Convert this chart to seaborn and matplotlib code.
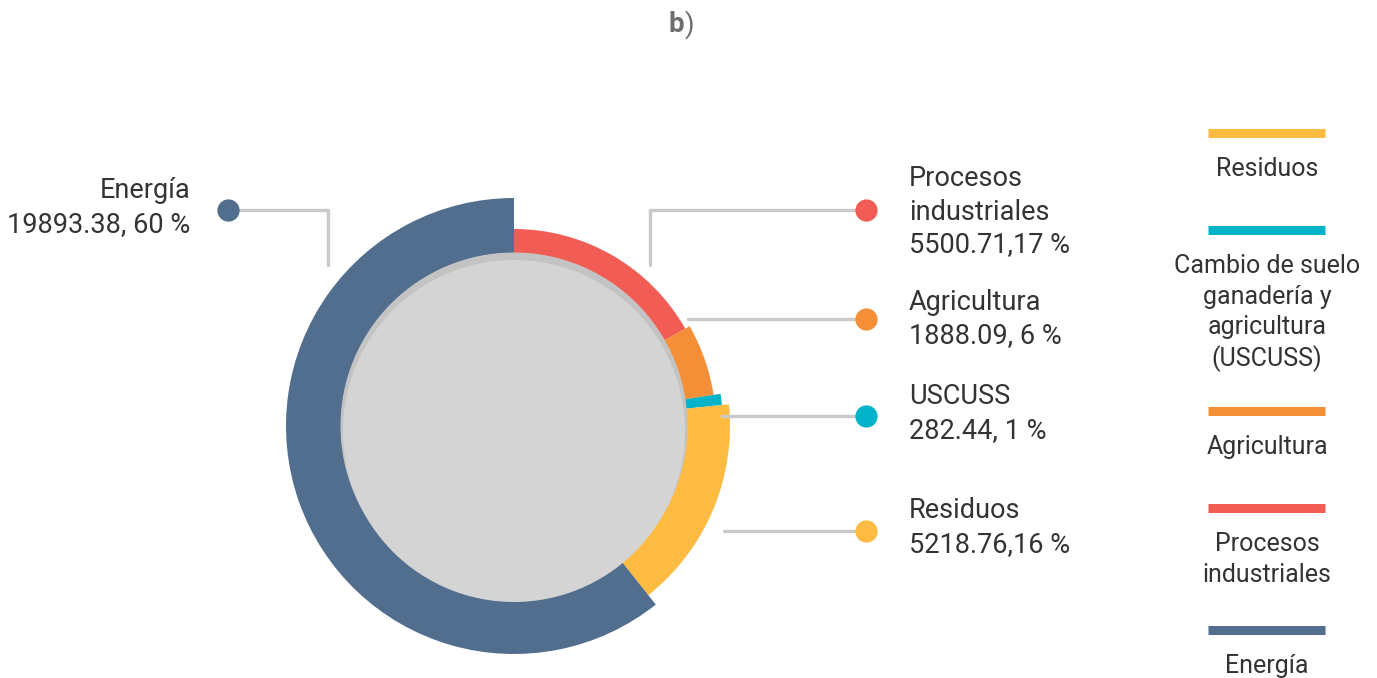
import numpy as np
import pandas as pd
import seaborn as sns
import matplotlib.pyplot as plt
from matplotlib.patches import Circle

sns.set_theme(style="white")
plt.rcParams['font.family'] = ['Roboto', 'DejaVu Sans']

# data (clockwise from top)
sectores = ['Procesos industriales', 'Agricultura', 'USCUSS', 'Residuos', 'Energía']
valores = [5500.71, 1888.09, 282.44, 5218.76, 19893.38]
porcentajes = ['17 %', '6 %', '1 %', '16 %', '60 %']
colores = ['#f15c55', '#f48f37', '#00b3c8', '#fdbb42', '#516e8e']
radios = [197, 202, 209, 216, 228]

leyenda_orden = ['Residuos', 'USCUSS', 'Agricultura', 'Procesos industriales', 'Energía']
leyenda_txt = [['Residuos'], ['Cambio de suelo', 'ganadería y', 'agricultura', '(USCUSS)'],
               ['Agricultura'], ['Procesos', 'industriales'], ['Energía']]

W, H = 1377, 678
fig = plt.figure(figsize=(W / 100, H / 100), dpi=100)
ax = fig.add_axes([0, 0, 1, 1])

def Y(y):
    return H - y

cx, cy = 514, Y(426)
r_in = 173

wedges, _ = ax.pie(valores, colors=colores, startangle=90, counterclock=False,
                   center=(cx, cy), radius=max(radios), frame=True,
                   wedgeprops=dict(width=max(radios) - r_in, linewidth=0))
for w, r in zip(wedges, radios):
    w.set_radius(r)
    w.set_width(r - r_in)
ax.set_xlim(0, W)
ax.set_ylim(0, H)
ax.set_aspect('equal')
ax.axis('off')

# center disc with soft shadow on top
ax.add_patch(Circle((cx, cy), r_in + 0.5, color='#c3c3c3', zorder=3, lw=0))
ax.add_patch(Circle((cx, Y(431)), 171, color='#d4d4d4', zorder=4, lw=0))

gris = '#c9c9c9'
txt = '#333333'
fs = 19.5

def dot(x, y, c):
    ax.plot([x], [Y(y)], 'o', ms=16, color=c, mec='none', zorder=6)

# Energía label (left)
ax.plot([228, 328, 328], [Y(210), Y(210), Y(265)], color=gris, lw=2.4, zorder=5)
dot(228, 210, colores[4])
ax.text(190, Y(191), 'Energía', ha='right', va='center', fontsize=fs, color=txt)
ax.text(190, Y(225), f'{valores[4]:.2f}, {porcentajes[4]}', ha='right', va='center',
        fontsize=fs, color=txt)

# right side labels
ax.plot([650, 650, 866], [Y(265), Y(210), Y(210)], color=gris, lw=2.4, zorder=5)
dot(866, 210, colores[0])
for yy, s in zip([178, 212, 245], ['Procesos', 'industriales', f'{valores[0]:.2f},{porcentajes[0]}']):
    ax.text(909, Y(yy), s, ha='left', va='center', fontsize=fs, color=txt)

derecha = [(1, 319, 688, 302, 'Agricultura', ', '),
           (2, 416, 722, 397, 'USCUSS', ', '),
           (3, 531, 724, 511, 'Residuos', ',')]
for i, ly, x0, ty, nombre, sep in derecha:
    ax.plot([x0, 866], [Y(ly), Y(ly)], color=gris, lw=2.4, zorder=1)
    dot(866, ly, colores[i])
    ax.text(909, Y(ty), nombre, ha='left', va='center', fontsize=fs, color=txt)
    ax.text(909, Y(ty + 34), f'{valores[i]:.2f}{sep}{porcentajes[i]}', ha='left', va='center',
            fontsize=fs, color=txt)

# legend on the right
barras_y = [133, 230, 411, 508, 630]
for nombre, lineas, by in zip(leyenda_orden, leyenda_txt, barras_y):
    c = colores[sectores.index(nombre)]
    ax.plot([1208, 1325], [Y(by), Y(by)], color=c, lw=6.5, solid_capstyle='butt')
    for k, s in enumerate(lineas):
        ax.text(1267, Y(by + 36 + 30.7 * k), s, ha='center', va='center', fontsize=18,
                color=txt)

ax.text(684, Y(25), 'b', ha='right', va='center', fontsize=20, color='#6e6e6e', fontweight='bold')
ax.text(685, Y(25), ')', ha='left', va='center', fontsize=20, color='#6e6e6e')

fig.savefig('out.png', dpi=100)
